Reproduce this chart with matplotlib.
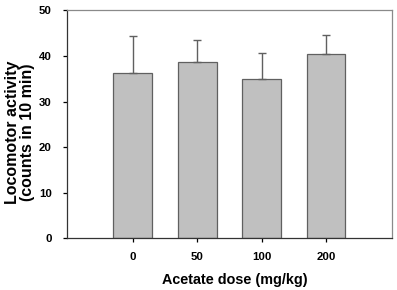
import matplotlib
matplotlib.use("Agg")
import matplotlib.pyplot as plt

doses = ["0", "50", "100", "200"]
means = [36.3, 38.7, 34.9, 40.5]
sem = [8.1, 4.9, 5.7, 4.0]

plt.rcParams['font.family'] = ['Liberation Sans', 'DejaVu Sans']
plt.rcParams['font.weight'] = 'bold'

fig = plt.figure(figsize=(3.97, 2.90), dpi=100)
ax = fig.add_axes([0.169, 0.179, 0.818, 0.785])
x = range(len(doses))
ax.bar(x, means, width=0.6, color='#c0c0c0', edgecolor='#606060', linewidth=0.9, zorder=2)
ax.errorbar(x, means, yerr=[[0]*len(sem), sem], fmt='none', ecolor='#606060',
            elinewidth=1.0, capsize=3, capthick=1.0, zorder=3)
ax.set_xlim(-1.02, 4.02)
ax.set_ylim(0, 50)
ax.set_xticks(list(x))
ax.set_xticklabels(doses)
ax.set_yticks([0, 10, 20, 30, 40, 50])
ax.tick_params(axis='both', direction='out', length=3, width=0.9, labelsize=8.2, colors='black')
ax.tick_params(axis='x', pad=7)
ax.tick_params(axis='y', pad=8)
for s in ['top', 'right']:
    ax.spines[s].set_color('#8a8a8a')
    ax.spines[s].set_linewidth(0.9)
for s in ['left', 'bottom']:
    ax.spines[s].set_color('#333333')
    ax.spines[s].set_linewidth(0.9)
ax.set_xlabel("Acetate dose (mg/kg)", fontsize=10.4, fontweight='bold')
ax.xaxis.set_label_coords(0.518, -0.155)
ax.set_ylabel("Locomotor activity\n(counts in 10 min)", fontsize=11.5, fontweight='bold',
              linespacing=1.0)
ax.yaxis.set_label_coords(-0.098, 0.465)
fig.savefig("out.png", dpi=100)
